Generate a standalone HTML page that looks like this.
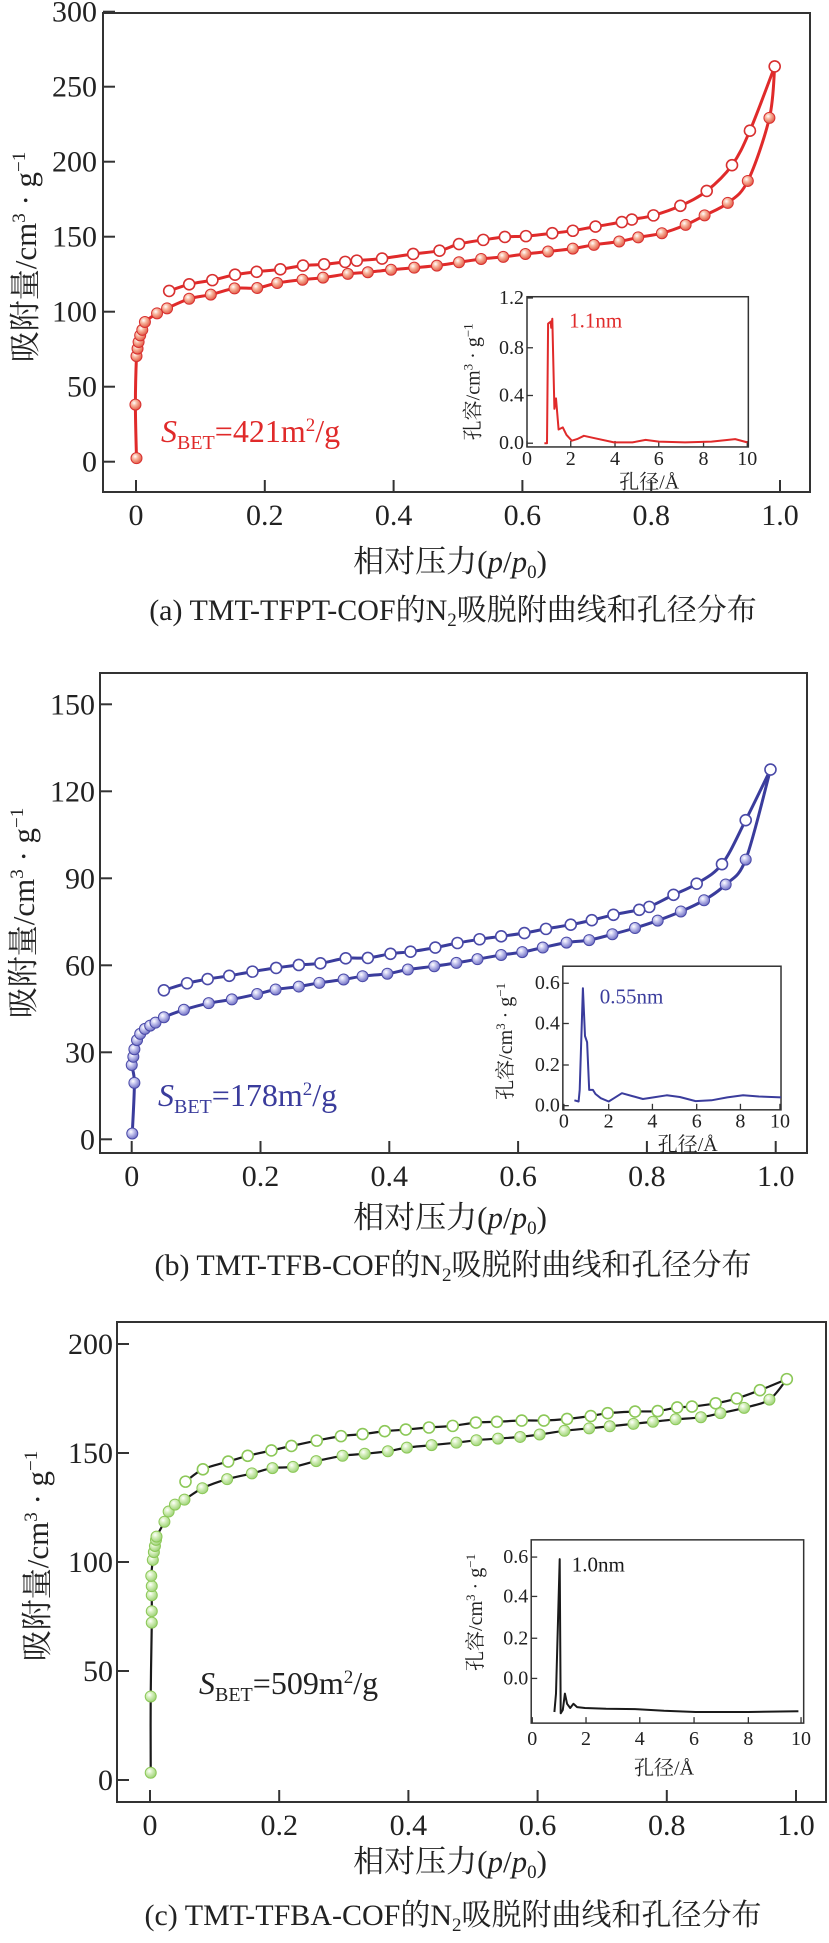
<!DOCTYPE html>
<html><head><meta charset="utf-8">
<style>
html,body{margin:0;padding:0;background:#fff;}
svg{display:block;}
text{font-family:"Liberation Serif","Noto Serif CJK SC","Noto Sans CJK SC",serif;fill:#222;}
</style></head>
<body>
<svg id="s" width="829" height="1943" xmlns="http://www.w3.org/2000/svg">
<defs>
<radialGradient id="gr" cx="0.38" cy="0.35" r="0.7"><stop offset="0" stop-color="#fff"/><stop offset="0.35" stop-color="#f8b8a0"/><stop offset="1" stop-color="#e0503c"/></radialGradient>
<radialGradient id="gb" cx="0.38" cy="0.35" r="0.7"><stop offset="0" stop-color="#fff"/><stop offset="0.35" stop-color="#c8c8f0"/><stop offset="1" stop-color="#6868c0"/></radialGradient>
<radialGradient id="gg" cx="0.38" cy="0.35" r="0.7"><stop offset="0" stop-color="#fff"/><stop offset="0.35" stop-color="#d8f0c0"/><stop offset="1" stop-color="#98d070"/></radialGradient>
</defs>
</svg>
<script>
var S=document.getElementById('s'),NS='http://www.w3.org/2000/svg';
function el(t,a,txt){var e=document.createElementNS(NS,t);for(var k in a)e.setAttribute(k,a[k]);if(txt!==undefined)e.innerHTML=txt;S.appendChild(e);return e;}
function smooth(p){var d='M'+p[0][0]+','+p[0][1];for(var i=0;i<p.length-1;i++){var p0=p[i-1]||p[i],p1=p[i],p2=p[i+1],p3=p[i+2]||p2;var c1=[p1[0]+(p2[0]-p0[0])/6,p1[1]+(p2[1]-p0[1])/6],c2=[p2[0]-(p3[0]-p1[0])/6,p2[1]-(p3[1]-p1[1])/6];d+='C'+c1[0].toFixed(1)+','+c1[1].toFixed(1)+' '+c2[0].toFixed(1)+','+c2[1].toFixed(1)+' '+p2[0].toFixed(1)+','+p2[1].toFixed(1);}return d;}
function line(p){return 'M'+p.map(function(q){return q[0].toFixed(1)+','+q[1].toFixed(1)}).join('L');}
function panel(o){
 var mx=function(z){return z*0.527}, my=function(z){return o.oy+z*o.sy};
 var f=o.frame;
 el('rect',{x:f[0],y:f[1],width:f[2]-f[0],height:f[3]-f[1],fill:'none',stroke:'#333','stroke-width':2});
 o.yt.forEach(function(t){el('line',{x1:f[0],x2:f[0]+12,y1:t[1],y2:t[1],stroke:'#333','stroke-width':2});el('text',{x:o.ylx,y:t[1]+10,'text-anchor':'end','font-size':30},t[0]);});
 o.xt.forEach(function(t){el('line',{x1:t[1],x2:t[1],y1:f[3],y2:f[3]-12,stroke:'#333','stroke-width':2});el('text',{x:t[1],y:f[3]+33,'text-anchor':'middle','font-size':30},t[0]);});
 var ds=o.des.map(function(q){return [mx(q[0]),my(q[1])]}), ad=o.ads.map(function(q){return [mx(q[0]),my(q[1])]});
 el('path',{d:smooth(ad),fill:'none',stroke:o.lc,'stroke-width':o.lw});
 el('path',{d:smooth(ds),fill:'none',stroke:o.lc,'stroke-width':o.lw});
 ad.forEach(function(q){el('circle',{cx:q[0],cy:q[1],r:5.5,fill:'url(#'+o.g+')',stroke:o.cs,'stroke-width':1});});
 ds.forEach(function(q){el('circle',{cx:q[0],cy:q[1],r:5.5,fill:'#fff',stroke:o.cs,'stroke-width':1.6});});
 var I=o.in, fr=[mx(I.f[0]),my(I.f[1]),mx(I.f[2]),my(I.f[3])];
 el('rect',{x:fr[0],y:fr[1],width:fr[2]-fr[0],height:fr[3]-fr[1],fill:'none',stroke:'#333','stroke-width':1.5});
 I.yt.forEach(function(t){var y=my(t[1]);el('line',{x1:fr[0],x2:fr[0]+6,y1:y,y2:y,stroke:'#333','stroke-width':1.3});el('text',{x:fr[0]-3,y:y+6,'text-anchor':'end','font-size':20},t[0]);});
 I.xt.forEach(function(t,i){var x=mx(t);el('line',{x1:x,x2:x,y1:fr[3],y2:fr[3]-6,stroke:'#333','stroke-width':1.3});el('text',{x:x,y:my(I.xly),'text-anchor':'middle','font-size':20},String(i*2));});
 el('path',{d:line(I.c.map(function(q){return [mx(q[0]),my(q[1])]})),fill:'none',stroke:I.col,'stroke-width':2,'stroke-linejoin':'round'});
 el('text',{x:mx(I.lab[0]),y:my(I.lab[1])+7,'font-size':21,style:'fill:'+I.col},I.lab[2]);
 el('text',{x:mx(I.xl[0]),y:my(I.xl[1])+7,'text-anchor':'middle','font-size':20},'孔径/Å');
 var yl=[mx(I.yl[0]),my(I.yl[1])];
 el('text',{x:yl[0],y:yl[1],'text-anchor':'middle','font-size':20,transform:'rotate(-90 '+yl[0]+' '+yl[1]+')'},'孔容/cm<tspan dy="-7" font-size="13">3</tspan><tspan dy="7"> · g</tspan><tspan dy="-7" font-size="13">−1</tspan>');
 var a=o.yaxis;
 el('text',{x:a[0],y:a[1],'text-anchor':'middle','font-size':31,transform:'rotate(-90 '+a[0]+' '+a[1]+')'},'吸附量/cm<tspan dy="-11" font-size="19">3</tspan><tspan dy="11"> · g</tspan><tspan dy="-11" font-size="19">−1</tspan>');
 el('text',{x:450,y:o.xlab+10,'text-anchor':'middle','font-size':31},'相对压力(<tspan font-style="italic">p</tspan>/<tspan font-style="italic">p</tspan><tspan font-size="19" dy="6">0</tspan><tspan dy="-6">)</tspan>');
 el('text',{x:o.sb[0],y:o.sb[1],'font-size':32,style:'fill:'+o.sbc},'<tspan font-style="italic">S</tspan><tspan font-size="20" dy="7">BET</tspan><tspan dy="-7">='+o.sbv+'m</tspan><tspan font-size="19" dy="-11">2</tspan><tspan dy="11">/g</tspan>');
 el('text',{x:453,y:o.cap+10,'text-anchor':'middle','font-size':30},o.capt[0]+'N<tspan font-size="19" dy="6">2</tspan><tspan dy="-6">吸脱附曲线和孔径分布</tspan>');
}
function ticks(vals,f){return vals.map(function(v){return [v[0],f(v[1])]});}
panel({oy:0,sy:0.415,frame:[103,13,810,492],lc:'#e02a2a',lw:3,g:'gr',cs:'#d83030',ylx:97,
 yt:ticks([['0',0],['50',50],['100',100],['150',150],['200',200],['250',250],['300',300]],function(v){return 461.7-v*1.5}),
 xt:ticks([['0',0],['0.2',0.2],['0.4',0.4],['0.6',0.6],['0.8',0.8],['1.0',1]],function(p){return 136+p*644}),
 des:[[1470,160],[1423,315],[1389,398],[1341,460],[1291,496],[1240,519],[1199,529],[1180,535],[1130,546],[1087,556],[1048,562],[998,569],[958,571],[917,578],[871,588],[834,604],[784,612],[725,623],[677,628],[655,631],[615,637],[575,640],[532,649],[487,655],[446,662],[403,675],[359,685],[321,701]],
 ads:[[259,1104],[257,975],[259,858],[261,840],[263,824],[266,808],[270,795],[275,776],[298,755],[317,743],[359,720],[400,710],[445,695],[488,694],[526,682],[574,674],[613,669],[660,660],[698,656],[742,650],[786,645],[829,640],[871,632],[913,624],[955,619],[997,612],[1040,606],[1087,599],[1127,590],[1175,582],[1211,572],[1256,562],[1301,542],[1337,519],[1381,489],[1419,436],[1460,284],[1470,160]],
 in:{f:[1000,715,1420,1077],col:'#e02a2a',yt:[['1.2',718],['0.8',838],['0.4',953],['0.0',1068]],xt:[1000,1083,1167,1250,1335,1418],xly:1120,
  c:[[1033,1068],[1038,1068],[1040,780],[1045,775],[1046,790],[1048,768],[1052,985],[1055,960],[1060,1035],[1068,1030],[1075,1048],[1085,1062],[1095,1058],[1108,1050],[1125,1055],[1165,1066],[1200,1066],[1225,1060],[1250,1064],[1300,1066],[1350,1064],[1395,1058],[1418,1066]],
  lab:[1080,772,'1.1nm'],xl:[1232,1160],yl:[910,920]},
 yaxis:[36,257],xlab:562,sb:[161,442],sbc:'#e02a2a',sbv:'421',cap:610,capt:['(a) TMT-TFPT-COF的']
});
panel({oy:650,sy:0.415,frame:[100,673,807,1153],lc:'#3a3c9c',lw:3,g:'gb',cs:'#4a4aa8',ylx:95,
 yt:ticks([['0',0],['30',30],['60',60],['90',90],['120',120],['150',150]],function(v){return 1139.3-v*2.9}),
 xt:ticks([['0',0],['0.2',0.2],['0.4',0.4],['0.6',0.6],['0.8',0.8],['1.0',1]],function(p){return 131.7+p*644}),
 des:[[1462,288],[1415,410],[1370,516],[1322,563],[1278,590],[1232,619],[1213,626],[1164,638],[1123,651],[1083,662],[1036,672],[995,682],[951,690],[910,697],[868,706],[826,717],[779,727],[741,732],[698,742],[656,743],[608,755],[567,759],[524,766],[479,775],[435,785],[394,793],[355,803],[311,820]],
 ads:[[251,1165],[255,1043],[250,1000],[253,980],[255,962],[260,940],[266,925],[275,913],[285,905],[295,898],[311,885],[349,867],[396,851],[440,842],[488,829],[523,818],[567,811],[606,802],[652,794],[688,786],[735,780],[774,770],[824,762],[866,754],[906,745],[951,735],[991,728],[1030,717],[1075,705],[1118,699],[1162,685],[1205,670],[1248,652],[1292,630],[1336,603],[1377,565],[1415,505],[1462,288]],
 in:{f:[1068,762,1482,1108],col:'#3a3c9c',yt:[['0.6',803],['0.4',900],['0.2',1000],['0.0',1098]],xt:[1070,1155,1238,1322,1405,1480],xly:1150,
  c:[[1090,1085],[1098,1088],[1100,1060],[1106,815],[1110,930],[1114,945],[1118,1060],[1125,1060],[1130,1070],[1140,1080],[1155,1088],[1165,1080],[1180,1068],[1200,1075],[1220,1082],[1240,1078],[1265,1073],[1290,1077],[1320,1087],[1350,1085],[1380,1078],[1410,1073],[1440,1076],[1482,1078]],
  lab:[1138,835,'0.55nm'],xl:[1305,1190],yl:[972,943]},
 yaxis:[34,913],xlab:1218,sb:[158,1106],sbc:'#3a3c9c',sbv:'178',cap:1265,capt:['(b) TMT-TFB-COF的']
});
panel({oy:1300,sy:0.41,frame:[117,1322,826,1802],lc:'#1a1a1a',lw:2.2,g:'gg',cs:'#8cc858',ylx:113,
 yt:ticks([['0',0],['50',50],['100',100],['150',150],['200',200]],function(v){return 1780-v*2.18}),
 xt:ticks([['0',0],['0.2',0.2],['0.4',0.4],['0.6',0.6],['0.8',0.8],['1.0',1]],function(p){return 150+p*646}),
 des:[[1493,193],[1442,220],[1398,240],[1358,252],[1313,260],[1285,262],[1248,271],[1205,272],[1153,276],[1121,283],[1076,290],[1032,294],[990,294],[943,297],[903,299],[859,307],[814,311],[770,316],[730,320],[688,327],[647,332],[601,343],[553,356],[515,367],[470,380],[433,394],[385,413],[352,443]],
 ads:[[286,1153],[286,967],[288,787],[288,759],[288,720],[288,698],[287,673],[290,634],[292,615],[294,600],[296,585],[297,577],[312,541],[320,516],[332,499],[350,487],[384,459],[431,437],[478,423],[517,410],[556,407],[600,393],[650,380],[692,375],[736,369],[772,360],[819,354],[866,348],[904,342],[945,338],[987,334],[1024,328],[1071,319],[1118,313],[1157,308],[1202,302],[1239,297],[1282,291],[1330,286],[1367,276],[1412,263],[1460,243],[1493,193]],
 in:{f:[1008,585,1525,1032],col:'#1a1a1a',yt:[['0.6',627],['0.4',723],['0.2',825],['0.0',923]],xt:[1010,1112,1214,1317,1420,1520],xly:1085,
  c:[[1052,1005],[1055,960],[1062,632],[1064,1008],[1068,1000],[1072,960],[1076,985],[1082,995],[1088,985],[1095,993],[1110,995],[1150,997],[1210,998],[1260,1002],[1320,1005],[1420,1005],[1515,1003]],
  lab:[1085,645,'1.0nm'],xl:[1260,1140],yl:[915,762]},
 yaxis:[48,1556],xlab:1862,sb:[199,1694],sbc:'#222',sbv:'509',cap:1915,capt:['(c) TMT-TFBA-COF的']
});
</script>
</body></html>
